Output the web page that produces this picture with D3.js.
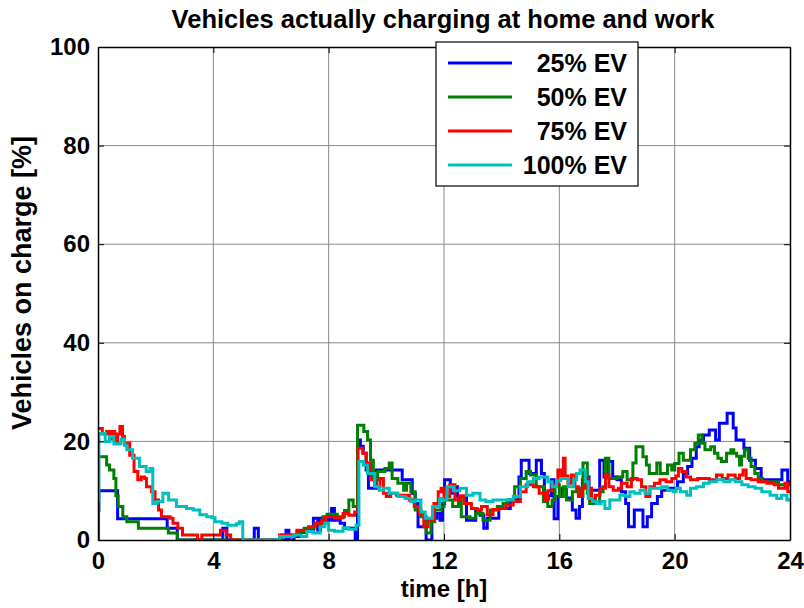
<!DOCTYPE html>
<html><head><meta charset="utf-8">
<script src="https://cdn.jsdelivr.net/npm/d3@7"></script>
<style>
html,body{margin:0;padding:0;background:#fff;}
text{font-family:"Liberation Sans",Arial,sans-serif;font-weight:bold;fill:#000;}
</style></head>
<body><svg id="c" width="804" height="608"></svg>
<script>
const xTicks = [0, 4, 8, 12, 16, 20, 24];
const yTicks = [0, 20, 40, 60, 80, 100];
const seriesNames = ["25% EV", "50% EV", "75% EV", "100% EV"];
const seriesColors = ["#0000ff", "#008000", "#ff0000", "#00bfbf"];

const ev25 = [[0,6],[0.03,10],[0.65,10],[0.68,4.3],[2.38,4.3],[2.4,2.4],[2.72,2.4],[2.75,0],
[4.33,2.4],[4.47,0],[5.42,2.4],[5.56,0],[6.52,2],[6.62,0],[6.8,0.7],[7.0,1.5],[7.2,2],[7.47,4.4],[7.62,2],[7.72,4.4],[7.8,4],[7.95,5],[8.05,4],[8.1,6.4],[8.2,4],[8.4,3.4],[8.55,2.4],[8.92,0],[9.0,20.3],[9.1,19],[9.2,17.6],[9.3,14.2],[9.38,10.5],[9.65,14.2],[10.55,12.2],[10.9,9.5],[11.0,7.4],[11.1,2.7],[11.38,0],[11.58,4.4],[11.75,5.4],[11.86,4],[11.95,7.4],[12.02,12.2],[12.22,9.5],[12.35,10.8],[12.47,8.8],[12.78,4],[13.1,6.1],[13.25,5],[13.38,2.4],[13.5,4.4],[13.9,6.4],[14.3,8.1],[14.6,12.8],[14.68,16.2],[14.95,13.5],[15.2,16.2],[15.38,13.5],[15.48,8.4],[15.62,9],[15.72,12.2],[15.82,4.3],[15.95,8.8],[16.1,10.5],[16.25,8.5],[16.45,6.1],[16.58,4.4],[16.7,6.8],[16.8,12.2],[16.93,12.8],[17.03,10.1],[17.4,16.2],[17.55,12.8],[17.7,15.9],[17.85,12.8],[18.0,12.2],[18.15,9.8],[18.3,7.4],[18.4,2.7],[18.6,6.1],[18.9,2.7],[19.05,4.7],[19.2,7.4],[19.4,8.8],[19.55,10.1],[19.8,10.5],[20.0,10.5],[20.1,11.8],[20.3,13.5],[20.45,14.9],[20.6,16.6],[20.75,18.9],[20.85,20.3],[21.0,21.3],[21.2,22.3],[21.42,20.3],[21.55,23.7],[21.82,25.7],[22.03,22.7],[22.13,20.3],[22.4,18.6],[22.6,16.2],[22.8,14.5],[23.0,12.2],[23.72,14.2],[23.92,11.8],[24,11.8]];

const ev50 = [[0,0],[0.02,16.9],[0.3,15.2],[0.4,14.2],[0.55,12.5],[0.62,9],[0.7,6.8],[0.86,4.7],[1.0,3.7],[1.4,2.4],[2.44,1.4],[2.75,0],[6.35,1],[6.9,1.7],[7.15,2.4],[7.5,3.4],[7.8,4.7],[7.95,5.2],[8.3,4.7],[8.55,6],[8.7,8.1],[8.85,6.8],[9.0,23.3],[9.22,22],[9.35,20.3],[9.45,16.2],[9.55,12.2],[9.7,13.9],[9.95,14.5],[10.1,15.6],[10.2,12.5],[10.4,11.5],[10.6,10.1],[10.7,11.5],[10.85,9.8],[11.0,6.1],[11.2,4.7],[11.38,1.4],[11.55,3.7],[11.68,6.1],[11.9,6.8],[12.0,8.1],[12.3,6.8],[12.5,8.5],[12.6,4.7],[12.9,4.4],[13.1,5.4],[13.35,4],[13.6,6.1],[13.85,6.8],[14.05,7.4],[14.2,8.1],[14.45,10.8],[14.65,12.5],[14.85,13.9],[15.0,13.2],[15.2,10.8],[15.45,7.8],[15.6,6.8],[15.75,8.1],[15.85,11.2],[16.0,8.8],[16.14,10.8],[16.25,8.1],[16.45,9.8],[16.6,10.5],[16.72,8.8],[16.82,15.6],[16.97,9.5],[17.05,7.4],[17.4,9.8],[17.52,10.8],[17.6,16.6],[17.72,12.5],[18.0,12.8],[18.2,13.9],[18.35,12.2],[18.55,15.6],[18.66,18.9],[18.9,16.9],[19.02,15.2],[19.12,13.5],[19.38,15.6],[19.5,13.5],[19.75,15.2],[19.9,14.2],[20.0,15.5],[20.15,17.6],[20.3,16.2],[20.55,18.3],[20.7,19.6],[20.82,21.3],[20.95,19.6],[21.05,18.3],[21.25,18.9],[21.38,17.6],[21.5,16.6],[21.62,15.9],[21.8,17.6],[21.95,18.3],[22.05,17.6],[22.15,17],[22.25,15.2],[22.32,17],[22.42,18.3],[22.55,16.6],[22.65,14.9],[22.78,13.5],[22.9,12.5],[23.05,11.8],[23.6,11.2],[24,11.2]];

const ev75 = [[0,22.6],[0.15,21.5],[0.3,22],[0.4,20.5],[0.5,22],[0.58,19.5],[0.68,21.5],[0.76,23],[0.85,21],[0.92,19.6],[1.1,17.2],[1.25,13.9],[1.38,12.2],[1.5,12.8],[1.62,12.5],[1.68,10.8],[1.86,9.8],[1.98,8.1],[2.1,6.1],[2.2,4.7],[2.5,4.4],[2.6,3.4],[2.77,2.4],[2.93,1],[3.45,0],[3.6,1],[4.25,2],[4.45,1],[4.6,0],[6.3,1],[6.9,2],[7.3,2.7],[7.55,3.4],[7.75,4],[7.9,4.7],[8.2,4.5],[8.5,5.4],[8.7,5],[8.9,5.7],[9.02,18.6],[9.18,17.6],[9.3,15.6],[9.45,12.2],[9.6,10.8],[9.78,12.5],[9.9,9.5],[10.0,8.8],[10.15,9.5],[10.35,9.1],[10.8,8.1],[10.97,6.8],[11.15,5.4],[11.3,2.7],[11.45,4],[11.65,7.4],[11.8,9.8],[11.9,10.5],[12.0,8.8],[12.2,11.2],[12.38,8.1],[12.55,9],[12.7,7.4],[12.95,6.4],[13.15,6.1],[13.3,6.8],[13.5,5.1],[13.7,6.2],[13.9,6.4],[14.15,7.1],[14.4,7.8],[14.65,9.8],[14.85,11.2],[15.1,10.8],[15.3,9.5],[15.5,8.1],[15.6,10],[15.75,11.2],[15.95,14.2],[16.05,13],[16.14,16.6],[16.2,13],[16.3,11.5],[16.42,13.2],[16.54,10.8],[16.66,8.8],[16.78,10.5],[16.89,12.5],[17.0,10.5],[17.12,8.1],[17.25,9.1],[17.41,10.5],[17.6,13.2],[17.72,10.8],[17.87,10.1],[18.05,10.5],[18.16,11.5],[18.35,10.8],[18.5,12.5],[18.7,12.2],[18.85,10.8],[19.0,8.8],[19.14,10.8],[19.3,11.5],[19.49,12.2],[19.7,11.8],[19.9,12.5],[20.05,13],[20.13,14.5],[20.25,13.9],[20.4,12.8],[20.55,12.2],[20.8,12.5],[21.0,12.5],[21.2,12.2],[21.45,13.2],[21.65,12.5],[21.85,13.2],[22.1,12.5],[22.25,13.2],[22.37,14.2],[22.48,12.5],[22.65,12.2],[22.9,11.8],[23.2,11.5],[23.45,11.2],[23.6,10.5],[23.83,11.5],[23.92,9.8],[24,9.8]];

const ev100 = [[0,8],[0.03,21.6],[0.25,20],[0.4,21],[0.55,19.5],[0.7,19.5],[0.8,20.5],[0.92,19.2],[1.0,18.3],[1.2,16.6],[1.44,14.9],[1.67,13.9],[1.8,14.5],[1.9,7.4],[2.05,7.8],[2.25,9.5],[2.45,8.1],[2.72,6.8],[3.07,6.4],[3.3,6.1],[3.53,5.1],[3.77,4.7],[3.95,4.5],[4.06,3.7],[4.3,3.4],[4.5,3.0],[4.8,3.3],[4.9,3.7],[5.02,0],[6.3,0.7],[6.8,1],[7.05,0.7],[7.24,1.7],[7.45,1.4],[7.7,2.7],[7.87,3.4],[8.0,2],[8.2,1.8],[8.5,2.5],[8.7,2.2],[8.95,3],[9.05,15.9],[9.2,15.2],[9.35,13.5],[9.6,10.8],[9.75,10.1],[9.9,10.5],[10.1,9.5],[10.4,8.8],[10.65,8.4],[10.85,7.8],[11.0,8.1],[11.2,5.7],[11.35,4.4],[11.6,6.8],[11.85,8.4],[11.95,8.1],[12.1,10.8],[12.35,10],[12.55,10.5],[12.78,9.1],[13.0,9.5],[13.25,8.1],[13.45,7.8],[13.7,8.1],[14.2,8.1],[14.4,8.8],[14.65,10.8],[14.9,11.8],[15.1,12.5],[15.3,12.8],[15.6,11.8],[15.75,10.8],[15.9,12],[16.05,12.5],[16.31,10.8],[16.5,12.2],[16.6,13.5],[16.72,14.2],[16.9,11.8],[17.0,8.4],[17.15,7.8],[17.3,7.4],[17.45,7.8],[17.58,6.4],[17.75,8.1],[18.1,9.1],[18.3,8.8],[18.45,9.8],[18.6,9.5],[18.8,10.1],[18.97,9.5],[19.14,10.5],[19.35,10.5],[19.55,10.8],[19.75,10.1],[19.95,9.8],[20.05,10.5],[20.2,9.8],[20.42,9.1],[20.55,10.5],[20.76,10.8],[21.0,11.5],[21.2,11.8],[21.46,12.2],[21.7,11.8],[21.92,12.2],[22.1,11.8],[22.33,11.2],[22.55,10.8],[22.79,10.5],[23.02,9.8],[23.31,9.1],[23.54,8.4],[23.7,9.1],[23.89,8.1],[24,8.5]];

const allSeries = [ev25, ev50, ev75, ev100];

const svg = d3.select("#c");
const L = 98, R = 790, T = 47, B = 540;
const x = d3.scaleLinear().domain([0, 24]).range([L, R]);
const y = d3.scaleLinear().domain([0, 100]).range([B, T]);

// grid
const grid = svg.append("g");
grid.selectAll("line.gx").data(xTicks.slice(1, -1)).enter().append("line")
  .attr("x1", d => x(d)).attr("x2", d => x(d)).attr("y1", T).attr("y2", B)
  .attr("stroke", "#8a8a8a").attr("stroke-width", 1);
grid.selectAll("line.gy").data(yTicks.slice(1, -1)).enter().append("line")
  .attr("x1", L).attr("x2", R).attr("y1", d => y(d)).attr("y2", d => y(d))
  .attr("stroke", "#8a8a8a").attr("stroke-width", 1);

// clip
svg.append("clipPath").attr("id", "clip").append("rect")
  .attr("x", L).attr("y", T - 2).attr("width", R - L).attr("height", B - T + 2);

const line = d3.line().x(d => x(d[0])).y(d => y(d[1])).curve(d3.curveStepAfter);
svg.append("g").attr("clip-path", "url(#clip)")
  .selectAll("path").data(allSeries).enter().append("path")
  .attr("d", line).attr("fill", "none")
  .attr("stroke", (d, i) => seriesColors[i]).attr("stroke-width", 3)
  .attr("stroke-linejoin", "miter");

// axes
const fmt = d3.format("d");
const ax = svg.append("g").attr("transform", `translate(0,${B})`)
  .call(d3.axisBottom(x).tickValues(xTicks).tickFormat(fmt).tickSizeInner(-6).tickSizeOuter(0).tickPadding(12));
const ay = svg.append("g").attr("transform", `translate(${L},0)`)
  .call(d3.axisLeft(y).tickValues(yTicks).tickFormat(fmt).tickSizeInner(-6).tickSizeOuter(0).tickPadding(8));
const axT = svg.append("g").attr("transform", `translate(0,${T})`)
  .call(d3.axisTop(x).tickValues(xTicks).tickFormat("").tickSizeInner(-6).tickSizeOuter(0));
const ayR = svg.append("g").attr("transform", `translate(${R},0)`)
  .call(d3.axisRight(y).tickValues(yTicks).tickFormat("").tickSizeInner(-6).tickSizeOuter(0));
[ax, ay, axT, ayR].forEach(g => {
  g.select(".domain").attr("stroke", "#000").attr("stroke-width", 1.5);
  g.selectAll(".tick line").attr("stroke", "#000");
  g.selectAll(".tick text").style("font-size", "24px").style("font-weight", "bold")
    .style("font-family", '"Liberation Sans", Arial, sans-serif').attr("fill", "#000");
});

// titles
svg.append("text").attr("x", 443).attr("y", 28).attr("text-anchor", "middle")
  .style("font-size", "25.5px").text("Vehicles actually charging at home and work");
svg.append("text").attr("x", 444).attr("y", 597).attr("text-anchor", "middle")
  .style("font-size", "24px").text("time [h]");
svg.append("text").attr("transform", "translate(31,283) rotate(-90)").attr("text-anchor", "middle")
  .style("font-size", "27px").text("Vehicles on charge [%]");

// legend
const lg = svg.append("g");
lg.append("rect").attr("x", 436).attr("y", 42).attr("width", 202).attr("height", 144)
  .attr("fill", "#fff").attr("stroke", "#000").attr("stroke-width", 1.2);
const rowY = [63, 97, 131, 165];
seriesNames.forEach((n, i) => {
  lg.append("line").attr("x1", 448).attr("x2", 512).attr("y1", rowY[i]).attr("y2", rowY[i])
    .attr("stroke", seriesColors[i]).attr("stroke-width", 3);
  lg.append("text").attr("x", 627).attr("y", rowY[i] + 9).attr("text-anchor", "end")
    .style("font-size", "25px").text(n);
});
</script></body></html>
